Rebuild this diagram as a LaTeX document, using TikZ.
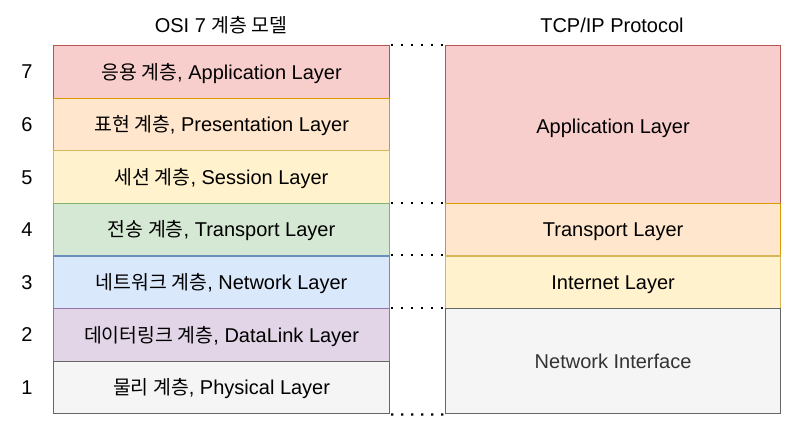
\documentclass[tikz,border=0pt]{standalone}
\usepackage{fontspec}
\setmainfont{Liberation Sans}
\newfontfamily\krf{Noto Sans CJK KR}[Scale=0.97]
\newcommand{\kr}[1]{{\krf #1}}
\definecolor{rF}{HTML}{F8CECC}\definecolor{rS}{HTML}{B85450}
\definecolor{oF}{HTML}{FFE6CC}\definecolor{oS}{HTML}{D79B00}
\definecolor{yF}{HTML}{FFF2CC}\definecolor{yS}{HTML}{D6B656}
\definecolor{gF}{HTML}{D5E8D4}\definecolor{gS}{HTML}{82B366}
\definecolor{bF}{HTML}{DAE8FC}\definecolor{bS}{HTML}{6C8EBF}
\definecolor{pF}{HTML}{E1D5E7}\definecolor{pS}{HTML}{9673A6}
\definecolor{aF}{HTML}{F5F5F5}\definecolor{aS}{HTML}{666666}
\definecolor{txt}{HTML}{333333}
\begin{document}
\begin{tikzpicture}[x=1pt,y=-1pt,
  lay/.style={draw=#1S,fill=#1F,line width=1.2pt,minimum width=336pt,anchor=north west,inner sep=0pt,text height=18pt,text depth=3.5pt,font=\fontsize{20}{22}\selectfont,text=black},
  tlay/.style={draw=#1S,fill=#1F,line width=1.2pt,minimum width=335pt,anchor=north west,inner sep=0pt,text height=18pt,text depth=3.5pt,font=\fontsize{20}{22}\selectfont,text=black},
  num/.style={font=\fontsize{20}{22}\selectfont},
  ttl/.style={font=\fontsize{20}{22}\selectfont},
  dots/.style={line width=2.2pt,dash pattern=on 2.2pt off 7.8pt,black}]
\useasboundingbox (0,0) rectangle (789,427);
\node[ttl] (t1) at (221,25.5) {OSI 7 \kr{계층 모델}};
\node[ttl] (t2) at (612,25.5) {TCP/IP Protocol};
% left
\node[lay=r,minimum height=52.6pt] (l7) at (53,45) {\kr{응용 계층}, Application Layer};
\node[lay=o,minimum height=52.6pt] (l6) at (53,97.6) {\kr{표현 계층}, Presentation Layer};
\node[lay=y,minimum height=52.6pt] (l5) at (53,150.2) {\kr{세션 계층}, Session Layer};
\node[lay=g,minimum height=52.6pt] (l4) at (53,202.8) {\kr{전송 계층}, Transport Layer};
\node[lay=b,minimum height=52.6pt] (l3) at (53,255.4) {\kr{네트워크 계층}, Network Layer};
\node[lay=p,minimum height=52.6pt] (l2) at (53,308) {\kr{데이터링크 계층}, DataLink Layer};
\node[lay=a,minimum height=52.6pt] (l1) at (53,360.6) {\kr{물리 계층}, Physical Layer};
% numbers
\foreach \n/\y in {7/72,6/125,5/177.5,4/230,3/282.5,2/335,1/387.5}
  \node[num] (n\n) at (27,\y) {\n};
% right
\node[tlay=r,minimum height=157.8pt,text height=20pt,text depth=1.5pt] (ra) at (445,45) {Application Layer};
\node[tlay=o,minimum height=52.6pt] (rt) at (445,202.8) {Transport Layer};
\node[tlay=y,minimum height=52.6pt] (ri) at (445,255.4) {Internet Layer};
\node[tlay=a,minimum height=105.2pt,text=txt] (rn) at (445,308) {Network Interface};
% dotted connectors
\draw[dots] ([xshift=1pt]l7.north east) -- ([xshift=-1pt]ra.north west);
\draw[dots] ([xshift=1pt]l4.north east) -- ([xshift=-1pt]rt.north west);
\draw[dots] ([xshift=1pt]l3.north east) -- ([xshift=-1pt]ri.north west);
\draw[dots] ([xshift=1pt]l2.north east) -- ([xshift=-1pt]rn.north west);
\draw[dots] ([xshift=1pt]l1.south east) -- ([xshift=-1pt]rn.south west);
\end{tikzpicture}
\end{document}
